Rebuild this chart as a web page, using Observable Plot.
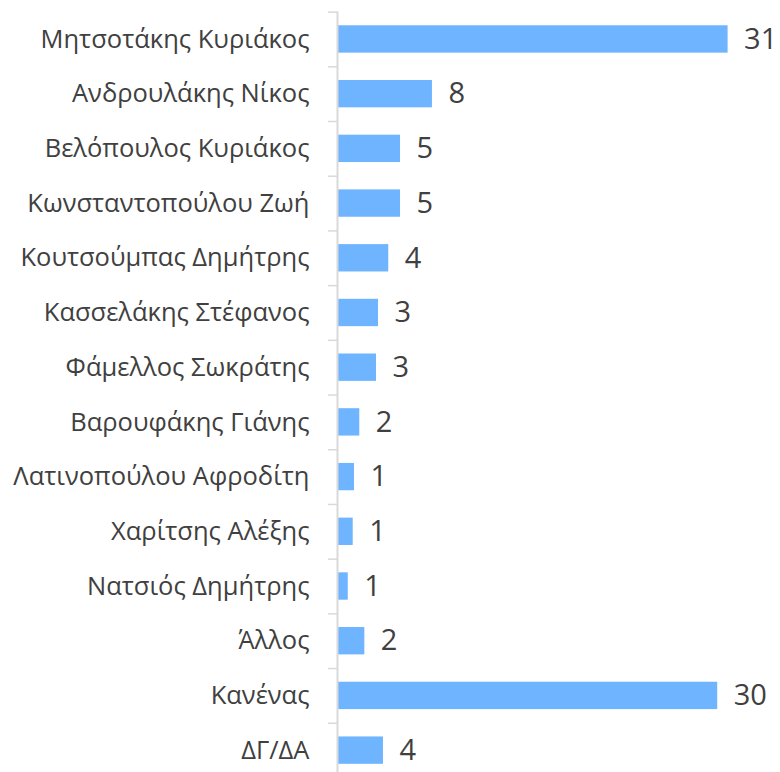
<!DOCTYPE html>
<html>
<head>
<meta charset="utf-8">
<script src="https://cdn.jsdelivr.net/npm/d3@7"></script>
<script src="https://cdn.jsdelivr.net/npm/@observablehq/plot@0.6"></script>
<style>
  html, body { margin: 0; padding: 0; background: #fff; }
  #chart svg { display: block; }
</style>
</head>
<body>
<div id="chart"></div>
<script>
const names = [
  "Μητσοτάκης Κυριάκος",
  "Ανδρουλάκης Νίκος",
  "Βελόπουλος Κυριάκος",
  "Κωνσταντοπούλου Ζωή",
  "Κουτσούμπας Δημήτρης",
  "Κασσελάκης Στέφανος",
  "Φάμελλος Σωκράτης",
  "Βαρουφάκης Γιάνης",
  "Λατινοπούλου Αφροδίτη",
  "Χαρίτσης Αλέξης",
  "Νατσιός Δημήτρης",
  "Άλλος",
  "Κανένας",
  "ΔΓ/ΔΑ"
];
const values = [30.86, 7.5, 4.98, 4.98, 4.05, 3.24, 3.08, 1.76, 1.34, 1.24, 0.85, 2.16, 30.04, 3.63];
const valueLabels = ["31", "8", "5", "5", "4", "3", "3", "2", "1", "1", "1", "2", "30", "4"];

const data = names.map((name, i) => ({name, i, value: values[i], label: valueLabels[i]}));
const boundaries = d3.range(names.length + 1).map(i => i - 0.5);

const font = "'Open Sans', 'Noto Sans', sans-serif";

const chart = Plot.plot({
  width: 780,
  height: 772,
  marginLeft: 337,
  marginRight: 0,
  marginTop: 11.6,
  marginBottom: 0,
  style: {fontFamily: font, color: "#404040", background: "#fff"},
  x: {domain: [0, 35], axis: null},
  y: {domain: [-0.5, 13.4], reverse: true, axis: null},
  marks: [
    Plot.rectX(data, {
      x1: 0,
      x2: "value",
      y1: d => d.i - 0.25,
      y2: d => d.i + 0.25,
      fill: "#6EB4FF",
      insetLeft: 1
    }),
    Plot.ruleX([0], {stroke: "#d9d9d9", strokeWidth: 2}),
    Plot.axisY({
      ticks: boundaries,
      tickFormat: () => "",
      tickSize: 9,
      label: null,
      stroke: "#d9d9d9",
      strokeWidth: 1.5
    }),
    Plot.axisY({
      ticks: d3.range(names.length),
      tickFormat: i => names[i],
      tickSize: 0,
      tickPadding: 28,
      label: null,
      fontSize: 25.5,
      fill: "#404040"
    }),
    Plot.text(data, {
      x: "value",
      y: "i",
      text: "label",
      textAnchor: "start",
      dx: 16,
      fontSize: 29,
      fill: "#404040"
    })
  ]
});

document.getElementById("chart").append(chart);
</script>
</body>
</html>
